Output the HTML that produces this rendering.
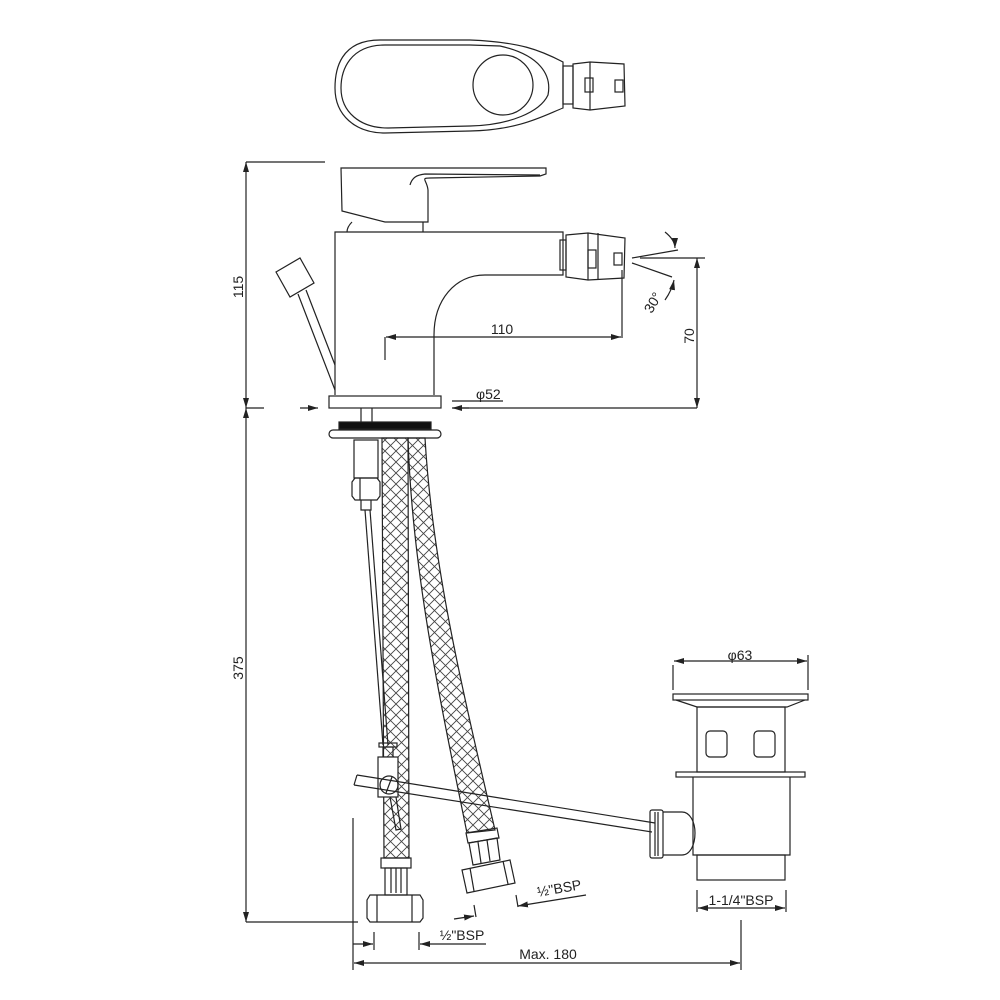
<!DOCTYPE html>
<html><head><meta charset="utf-8"><style>
html,body{margin:0;padding:0;background:#fff}
svg{display:block}
text{font-family:"Liberation Sans","DejaVu Sans",sans-serif;fill:#222}
</style></head><body>
<svg width="1000" height="1000" viewBox="0 0 1000 1000" xmlns="http://www.w3.org/2000/svg">
<defs>
<pattern id="hatch" width="11" height="11" patternUnits="userSpaceOnUse">
<path d="M0 0L11 11M11 0L0 11" stroke="#444" stroke-width="0.9"/>
</pattern>
<marker id="ar" viewBox="0 0 10 6" refX="10" refY="3" markerWidth="10" markerHeight="6" orient="auto-start-reverse" markerUnits="userSpaceOnUse">
<path d="M0 0L10 3L0 6z" fill="#222"/>
</marker>
</defs>
<g fill="none" stroke="#222" stroke-width="1.2">
<!-- top view -->
<path d="M380 40 C340 40 335 70 335 88 C335 115 355 133 385 133 L470 131 C520 130 545 115 563 108 L563 62 C540 50 520 42 470 40 Z"/>
<path d="M385 45 C350 45 341 70 341 88 C341 112 360 128 388 128 L470 126 C510 125 540 112 548 95 C552 75 540 55 500 46 L470 45 Z"/>
<circle cx="503" cy="85" r="30"/>
<rect x="563" y="66" width="10" height="38"/>
<path d="M573 64 L590 62 L624 64 L625 106 L590 110 L573 108 Z"/>
<line x1="590" y1="62" x2="590" y2="110"/>
<rect x="585" y="78" width="8" height="14"/>
<rect x="615" y="80" width="8" height="12"/>

<!-- 115 dimension -->
<line x1="246" y1="162" x2="325" y2="162"/>
<line x1="246" y1="162" x2="246" y2="408" marker-start="url(#ar)" marker-end="url(#ar)"/>
<line x1="246" y1="408" x2="246" y2="922" marker-start="url(#ar)" marker-end="url(#ar)"/>
<line x1="246" y1="922" x2="358" y2="922"/>

<!-- lever -->
<path d="M341 168 L546 168 L546 174 L540 176 L430 178 C420 178 427 180 428 190 L428 222 L385 222 L342 211 Z"/>
<path d="M410 185 C412 178 416 175 425 174 L540 175"/>
<path d="M352 222 C348 226 347 229 347 232"/>
<line x1="423" y1="222" x2="423" y2="232"/>
<!-- body -->
<path d="M335 395 L335 232 L563 232 L563 275 L485 275 C455 275 434 300 434 335 L434 395"/>
<line x1="385" y1="337" x2="385" y2="360"/>
<!-- nozzle -->
<rect x="560" y="240" width="6" height="30"/>
<path d="M566 235 L588 233 L625 238 L624 278 L588 280 L566 277 Z"/>
<line x1="588" y1="233" x2="588" y2="280"/>
<line x1="598" y1="233" x2="598" y2="280"/>
<rect x="588" y="250" width="8" height="18"/>
<rect x="614" y="253" width="8" height="12"/>
<!-- spray -->
<line x1="632" y1="258" x2="678" y2="250"/>
<line x1="632" y1="263" x2="672" y2="277"/>
<path d="M665 232 Q675 240 675 248" marker-end="url(#ar)"/>
<path d="M665 300 Q672 290 674 280" marker-end="url(#ar)"/>
<!-- 70 -->
<line x1="640" y1="258" x2="705" y2="258"/>
<line x1="697" y1="258" x2="697" y2="408" marker-start="url(#ar)" marker-end="url(#ar)"/>
<!-- 110 -->
<line x1="622" y1="270" x2="622" y2="338"/>
<line x1="386" y1="337" x2="621" y2="337" marker-start="url(#ar)" marker-end="url(#ar)"/>
<!-- popup rod -->
<path d="M276 272 L300 258 L314 283 L290 297 Z"/>
<path d="M298 294 L335 390 M306 290 L335 365"/>
<!-- base -->
<rect x="329" y="396" width="112" height="12"/>
<line x1="246" y1="408" x2="264" y2="408"/>
<line x1="300" y1="408" x2="318" y2="408" marker-end="url(#ar)"/>
<line x1="469" y1="408" x2="452" y2="408" marker-end="url(#ar)"/>
<line x1="452" y1="401" x2="503" y2="401"/>
<line x1="453" y1="408" x2="697" y2="408"/>
<line x1="361" y1="408" x2="361" y2="422"/><line x1="372" y1="408" x2="372" y2="422"/>
<rect x="339" y="422" width="92" height="7" fill="#111"/>
<rect x="329" y="430" width="112" height="8" rx="4"/>

<!-- hoses -->
<path d="M382 438 L408 438 L409 858 L384 858 Z" fill="url(#hatch)"/>
<path d="M408 438 L425 438 C432 560 460 680 495 830 L467 833 C440 700 412 570 408 438 Z" fill="url(#hatch)"/>
<!-- stud -->
<rect x="354" y="440" width="24" height="38"/>
<path d="M352 482 L355 478 L377 478 L380 482 L380 496 L377 500 L355 500 L352 496 Z"/>
<line x1="360" y1="478" x2="360" y2="500"/>
<path d="M361 500 L361 510 L371 510 L371 500"/>
<line x1="365" y1="510" x2="383" y2="745"/>
<line x1="370" y1="510" x2="388" y2="745"/>
<!-- clamp -->
<rect x="379" y="743" width="18" height="4"/>
<rect x="383" y="747" width="10" height="10"/>
<rect x="378" y="757" width="20" height="40" fill="#fff"/>
<circle cx="389" cy="785" r="9"/>
<line x1="386" y1="793" x2="392" y2="777"/>
<path d="M390 797 L396 830 L401 829 L396 797"/>
<!-- horizontal rod -->
<path d="M357 775 L655 823 M354 785 L652 832"/>
<line x1="357" y1="775" x2="354" y2="785"/>
<!-- left hose fitting -->
<rect x="381" y="858" width="30" height="10"/>
<rect x="385" y="868" width="22" height="27"/>
<line x1="391" y1="868" x2="391" y2="893"/><line x1="396" y1="868" x2="396" y2="893"/><line x1="401" y1="868" x2="401" y2="893"/>
<path d="M370 895 L420 895 L423 900 L423 918 L420 922 L370 922 L367 918 L367 900 Z"/>
<line x1="377" y1="895" x2="377" y2="922"/><line x1="412" y1="895" x2="412" y2="922"/>
<!-- right hose fitting -->
<path d="M466 833 L497 828 L499 838 L468 843 Z"/>
<path d="M469 843 L497 838 L500 860 L473 865 Z"/>
<line x1="478" y1="842" x2="481" y2="863"/><line x1="487" y1="840" x2="490" y2="861"/>
<path d="M462 870 L510 860 L515 883 L467 893 Z"/>
<line x1="470" y1="868" x2="474" y2="891"/><line x1="503" y1="861" x2="508" y2="884"/>

<!-- waste -->
<rect x="673" y="694" width="135" height="6"/>
<path d="M676 700 L697 707 L787 707 L805 700"/>
<rect x="697" y="707" width="88" height="65"/>
<rect x="706" y="731" width="21" height="26" rx="4"/>
<rect x="754" y="731" width="21" height="26" rx="4"/>
<rect x="676" y="772" width="129" height="5"/>
<path d="M693 777 L693 855 L790 855 L790 777"/>
<rect x="697" y="855" width="88" height="25"/>
<rect x="650" y="810" width="13" height="48" rx="2"/>
<path d="M655 812 L655 856 M658 812 L658 856"/>
<path d="M663 812 L682 812 C690 812 695 822 695 833 C695 845 690 855 682 855 L663 855"/>
<!-- phi63 -->
<line x1="673" y1="665" x2="673" y2="690"/>
<line x1="808" y1="655" x2="808" y2="690"/>
<line x1="674" y1="661" x2="807" y2="661" marker-start="url(#ar)" marker-end="url(#ar)"/>
<!-- 1-1/4 -->
<line x1="697" y1="890" x2="697" y2="912"/>
<line x1="786" y1="890" x2="786" y2="912"/>
<line x1="698" y1="908" x2="785" y2="908" marker-start="url(#ar)" marker-end="url(#ar)"/>
<!-- max 180 -->
<line x1="353" y1="818" x2="353" y2="970"/>
<line x1="741" y1="920" x2="741" y2="970"/>
<line x1="354" y1="963" x2="740" y2="963" marker-start="url(#ar)" marker-end="url(#ar)"/>
<!-- small BSP dims -->
<line x1="353" y1="944" x2="373" y2="944" marker-end="url(#ar)"/>
<line x1="374" y1="932" x2="374" y2="950"/>
<line x1="419" y1="932" x2="419" y2="950"/>
<line x1="486" y1="944" x2="420" y2="944" marker-end="url(#ar)"/>
<line x1="454" y1="919" x2="474" y2="916" marker-end="url(#ar)"/>
<line x1="474" y1="905" x2="476" y2="917"/>
<line x1="516" y1="895" x2="518" y2="907"/>
<line x1="586" y1="895" x2="518" y2="906" marker-end="url(#ar)"/>
</g>
<g font-size="14">
<text x="243" y="287" transform="rotate(-90 243 287)" text-anchor="middle">115</text>
<text x="243" y="668" transform="rotate(-90 243 668)" text-anchor="middle">375</text>
<text x="694" y="336" transform="rotate(-90 694 336)" text-anchor="middle">70</text>
<text x="502" y="334" text-anchor="middle">110</text>
<text x="476" y="399">φ52</text>
<text x="657" y="305" transform="rotate(-60 657 305)" text-anchor="middle">30°</text>
<text x="740" y="660" text-anchor="middle">φ63</text>
<text x="741" y="905" text-anchor="middle">1-1/4"BSP</text>
<text x="548" y="959" text-anchor="middle">Max. 180</text>
<text x="462" y="940" text-anchor="middle">½"BSP</text>
<text x="560" y="893" transform="rotate(-10 560 893)" text-anchor="middle">½"BSP</text>
</g>
</svg>
</body></html>
